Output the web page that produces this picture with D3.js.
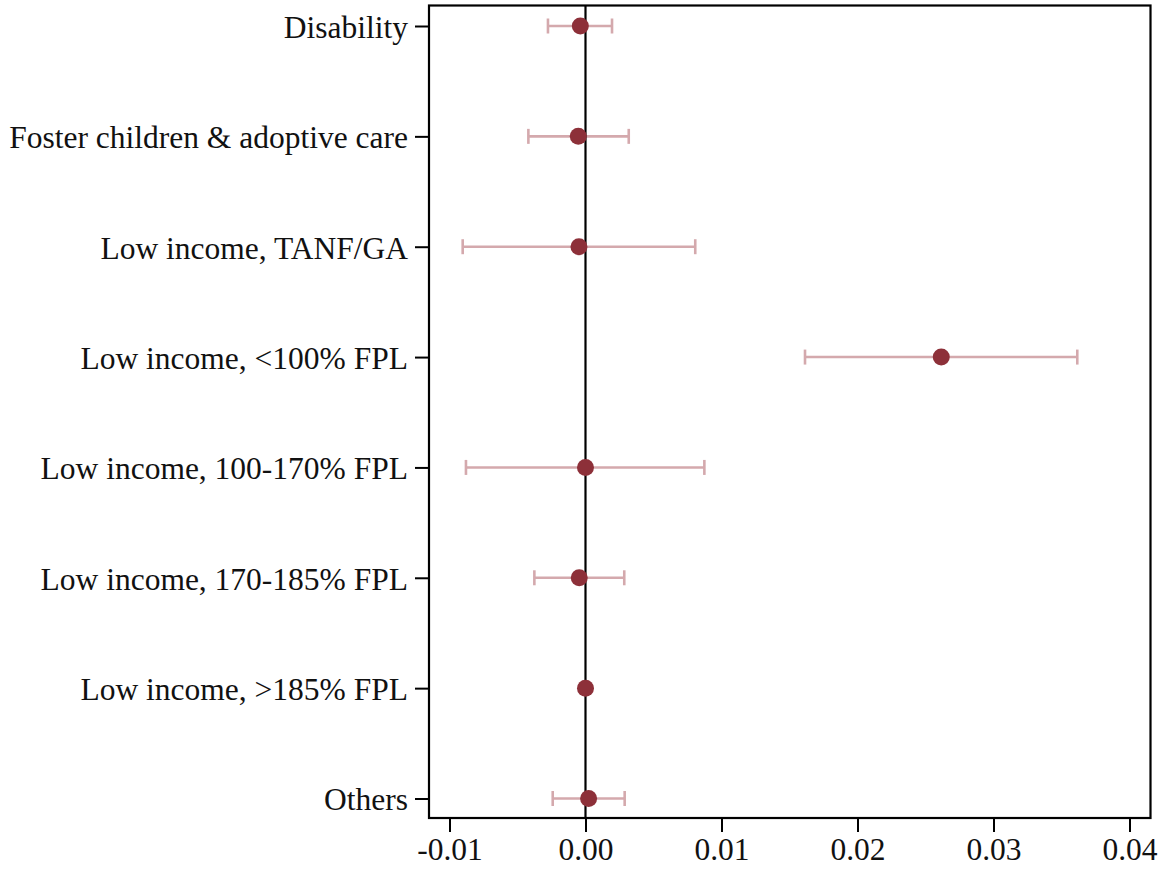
<!DOCTYPE html>
<html>
<head>
<meta charset="utf-8">
<script src="https://cdn.jsdelivr.net/npm/d3@7"></script>
<style>
  html, body { margin: 0; padding: 0; background: #fff; }
  svg { display: block; }
</style>
</head>
<body>
<svg id="chart" width="1165" height="869"></svg>
<script>
// Coefficient estimates with 95% confidence intervals by eligibility group
const categories = [
  "Disability",
  "Foster children & adoptive care",
  "Low income, TANF/GA",
  "Low income, <100% FPL",
  "Low income, 100-170% FPL",
  "Low income, 170-185% FPL",
  "Low income, >185% FPL",
  "Others"
];
const estimates = [-0.00038, -0.00053, -0.00048, 0.02616, 0.0, -0.00046, 0.0, 0.00023];
const ciLow     = [-0.00276, -0.00420, -0.00903, 0.01614, -0.00879, -0.00376, null, -0.00241];
const ciHigh    = [ 0.00195,  0.00318,  0.00807, 0.03616,  0.00874,  0.00285, null,  0.00288];
const xTicks = [-0.01, 0.00, 0.01, 0.02, 0.03, 0.04];

const rows = categories.map((c, i) => ({
  cat: c, est: estimates[i], lo: ciLow[i], hi: ciHigh[i]
}));

const FONT = "Liberation Serif, Tinos, DejaVu Serif, serif";
const svg = d3.select("#chart");
const m = { left: 429, right: 1150.5, top: 5.5, bottom: 818 };

const x = d3.scaleLinear().domain([-0.011507, 0.041544]).range([m.left, m.right]);
const y = d3.scalePoint().domain(categories).range([m.top + 20.5, m.bottom - 19.5]);

const fontSize = 31.5;
const ciColor = "#d4a9ad";
const dotColor = "#8d3039";

// Confidence interval whiskers
const ci = svg.append("g").selectAll("g")
  .data(rows.filter(d => d.lo !== null))
  .join("g")
  .attr("stroke", ciColor)
  .attr("stroke-width", 2.6)
  .attr("fill", "none");
ci.append("line")
  .attr("x1", d => x(d.lo)).attr("x2", d => x(d.hi))
  .attr("y1", d => y(d.cat)).attr("y2", d => y(d.cat));
ci.append("line")
  .attr("x1", d => x(d.lo)).attr("x2", d => x(d.lo))
  .attr("y1", d => y(d.cat) - 7.5).attr("y2", d => y(d.cat) + 7.5);
ci.append("line")
  .attr("x1", d => x(d.hi)).attr("x2", d => x(d.hi))
  .attr("y1", d => y(d.cat) - 7.5).attr("y2", d => y(d.cat) + 7.5);

// Reference line at zero
svg.append("line")
  .attr("x1", x(0)).attr("x2", x(0))
  .attr("y1", m.top).attr("y2", m.bottom)
  .attr("stroke", "#000").attr("stroke-width", 2.2);

// Point estimates
svg.append("g").selectAll("circle")
  .data(rows)
  .join("circle")
  .attr("cx", d => x(d.est))
  .attr("cy", d => y(d.cat))
  .attr("r", 8.5)
  .attr("fill", dotColor);

// Plot frame
svg.append("rect")
  .attr("x", m.left).attr("y", m.top)
  .attr("width", m.right - m.left).attr("height", m.bottom - m.top)
  .attr("fill", "none").attr("stroke", "#000").attr("stroke-width", 2.2);

// Left axis
const yAxis = svg.append("g")
  .attr("transform", `translate(${m.left},0)`)
  .call(d3.axisLeft(y).tickSize(14).tickPadding(7))
  .attr("font-family", FONT)
  .attr("font-size", fontSize);
yAxis.select(".domain").remove();
yAxis.selectAll(".tick line").attr("stroke", "#000").attr("stroke-width", 2);
yAxis.selectAll(".tick text").attr("fill", "#111").attr("dy", "0.36em");

// Bottom axis; plain hyphen for negative values
const fmt = d => d3.format(".2f")(d).replace("\u2212", "-");
const xAxis = svg.append("g")
  .attr("transform", `translate(0,${m.bottom})`)
  .call(d3.axisBottom(x).tickValues(xTicks).tickFormat(fmt).tickSize(14).tickPadding(6))
  .attr("font-family", FONT)
  .attr("font-size", fontSize);
xAxis.select(".domain").remove();
xAxis.selectAll(".tick line").attr("stroke", "#000").attr("stroke-width", 2);
xAxis.selectAll(".tick text").attr("fill", "#111");
</script>
</body>
</html>
